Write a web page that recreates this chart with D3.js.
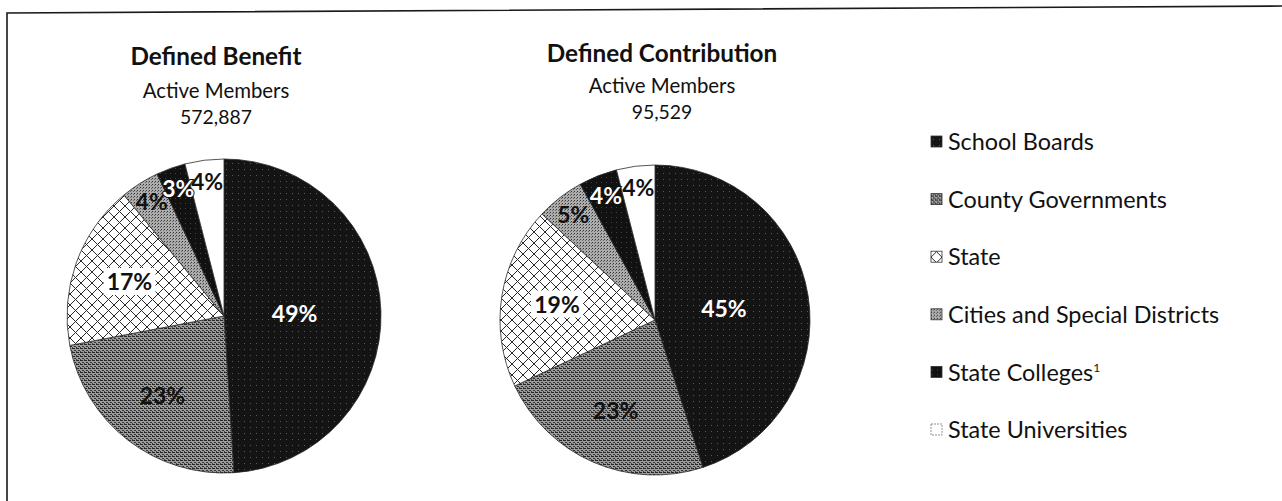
<!DOCTYPE html>
<html>
<head>
<meta charset="utf-8">
<script src="https://cdn.jsdelivr.net/npm/d3@7"></script>
<style>
  html, body { margin: 0; padding: 0; background: #fff; }
  svg { display: block; font-family: Lato, "Open Sans", sans-serif; }
</style>
</head>
<body>
<svg id="chart" width="1282" height="501"></svg>
<script>
// Employer categories, in slice order (clockwise from 12 o'clock)
const categories = ["School Boards", "County Governments", "State",
  "Cities and Special Districts", "State Colleges", "State Universities"];
// Share of active members (%) per category
const dbShares = [49, 23, 17, 4, 3, 4];   // Defined Benefit plan
const dcShares = [45, 23, 19, 5, 4, 4];   // Defined Contribution plan
const planTitles = ["Defined Benefit", "Defined Contribution"];
const memberTotals = ["572,887", "95,529"];

const W = 1282, H = 501;
const svg = d3.select("#chart");
const defs = svg.append("defs");

// ---- fill patterns (monochrome print style) ----
function pattern(id, size, draw) {
  const p = defs.append("pattern").attr("id", id)
    .attr("patternUnits", "userSpaceOnUse").attr("width", size).attr("height", size);
  draw(p);
}
pattern("pSchool", 6, p => {
  p.append("rect").attr("width", 6).attr("height", 6).attr("fill", "#141414");
  p.append("rect").attr("x", 2).attr("y", 3).attr("width", 1).attr("height", 1).attr("fill", "#5a5a5a");
});
pattern("pCounty", 4, p => {
  p.append("rect").attr("width", 4).attr("height", 4).attr("fill", "#9c9c9c");
  p.append("rect").attr("x", 0).attr("y", 0).attr("width", 3).attr("height", 1).attr("fill", "#262626");
  p.append("rect").attr("x", 2).attr("y", 2).attr("width", 2).attr("height", 1).attr("fill", "#333");
  p.append("rect").attr("x", 0).attr("y", 3).attr("width", 1).attr("height", 1).attr("fill", "#444");
});
pattern("pState", 11, p => {
  p.append("rect").attr("width", 11).attr("height", 11).attr("fill", "#fff");
  p.append("path").attr("d", "M0,0L11,11M11,0L0,11M-1,10L1,12M10,-1L12,1")
    .attr("stroke", "#2a2a2a").attr("stroke-width", 1);
});
pattern("pCities", 3, p => {
  p.append("rect").attr("width", 3).attr("height", 3).attr("fill", "#adadad");
  p.append("rect").attr("x", 0).attr("y", 0).attr("width", 1).attr("height", 1).attr("fill", "#333");
  p.append("rect").attr("x", 2).attr("y", 1).attr("width", 1).attr("height", 1).attr("fill", "#666");
});
pattern("pColleges", 5, p => {
  p.append("rect").attr("width", 5).attr("height", 5).attr("fill", "#111");
  p.append("rect").attr("x", 1).attr("y", 2).attr("width", 1).attr("height", 1).attr("fill", "#444");
});
pattern("pUniv", 4, p => {
  p.append("rect").attr("width", 4).attr("height", 4).attr("fill", "#fff");
});

const fills = d3.scaleOrdinal().domain(categories)
  .range(["url(#pSchool)", "url(#pCounty)", "url(#pState)", "url(#pCities)", "url(#pColleges)", "url(#pUniv)"]);
const labelColor = d3.scaleOrdinal().domain(categories)
  .range(["#fff", "#111", "#111", "#111", "#fff", "#111"]);

// ---- frame (top rule runs at a slight tilt on the scanned page) ----
svg.append("path")
  .attr("d", `M7,${H + 5}L7,13L${W + 5},6`)
  .attr("fill", "none").attr("stroke", "#1a1a1a").attr("stroke-width", 1.6);

// ---- pies ----
const pies = [
  { shares: dbShares, cx: 224, cy: 316, r: 157, tx: 216, ty: [65, 98, 124] },
  { shares: dcShares, cx: 655, cy: 320, r: 155, tx: 662, ty: [62, 93, 119] }
];
const pie = d3.pie().sort(null).value(d => d.value);

pies.forEach((cfg, i) => {
  const data = categories.map((c, k) => ({ cat: c, value: cfg.shares[k] }));
  const arcs = pie(data);
  const arc = d3.arc().innerRadius(0).outerRadius(cfg.r);
  const g = svg.append("g").attr("transform", `translate(${cfg.cx},${cfg.cy})`);

  g.selectAll("path.slice").data(arcs).join("path")
    .attr("class", "slice")
    .attr("d", arc)
    .attr("fill", d => fills(d.data.cat))
    .attr("stroke", "#2a2a2a").attr("stroke-width", 0.8);

  // label radius depends on slice size: big slices inside, slivers near rim
  const labelR = d => d.data.value >= 40 ? 0.45 : d.data.value >= 10 ? 0.64 : 0.86;
  const lab = g.selectAll("g.lab").data(arcs).join("g")
    .attr("class", "lab")
    .attr("transform", d => {
      const rr = cfg.r * labelR(d);
      const c = d3.arc().innerRadius(rr).outerRadius(rr).centroid(d);
      return `translate(${c[0]},${c[1]})`;
    });
  lab.filter(d => d.data.cat === "State").append("rect")
    .attr("x", -26).attr("y", -14).attr("width", 52).attr("height", 27).attr("fill", "#fff");
  lab.append("text")
    .attr("text-anchor", "middle").attr("dy", "0.36em")
    .attr("font-size", 23).attr("font-weight", 700)
    .attr("fill", d => labelColor(d.data.cat))
    .attr("stroke", d => d.data.cat === "State Colleges" ? "#111" : "none")
    .attr("stroke-width", 2).attr("paint-order", "stroke")
    .text(d => d3.format(".0f")(d.data.value) + "%");

  // titles
  const t = svg.append("g").attr("transform", `translate(${cfg.tx},0)`)
    .attr("text-anchor", "middle").attr("fill", "#111");
  t.append("text").attr("y", cfg.ty[0]).attr("font-size", 24.3).attr("font-weight", 700).text(planTitles[i]);
  t.append("text").attr("y", cfg.ty[1]).attr("font-size", 20.4).text("Active Members");
  t.append("text").attr("y", cfg.ty[2]).attr("font-size", 19.4).text(memberTotals[i]);
});

// ---- legend ----
const legendY = d3.scalePoint().domain(categories).range([142, 430]);
const leg = svg.append("g").selectAll("g").data(categories).join("g")
  .attr("transform", d => `translate(931,${legendY(d)})`);
leg.append("rect")
  .attr("x", 0).attr("y", -6).attr("width", 11).attr("height", 11)
  .attr("fill", d => fills(d))
  .attr("stroke", d => d === "State Universities" ? "#777" : "#333")
  .attr("stroke-dasharray", d => d === "State Universities" ? "2,1" : null)
  .attr("stroke-width", 0.8);
const lt = leg.append("text")
  .attr("x", 17).attr("dy", "0.35em").attr("font-size", 23.4).attr("fill", "#111")
  .text(d => d);
lt.filter(d => d === "State Colleges").append("tspan")
  .attr("dy", "-0.75em").attr("font-size", 12).text("1");
</script>
</body>
</html>
